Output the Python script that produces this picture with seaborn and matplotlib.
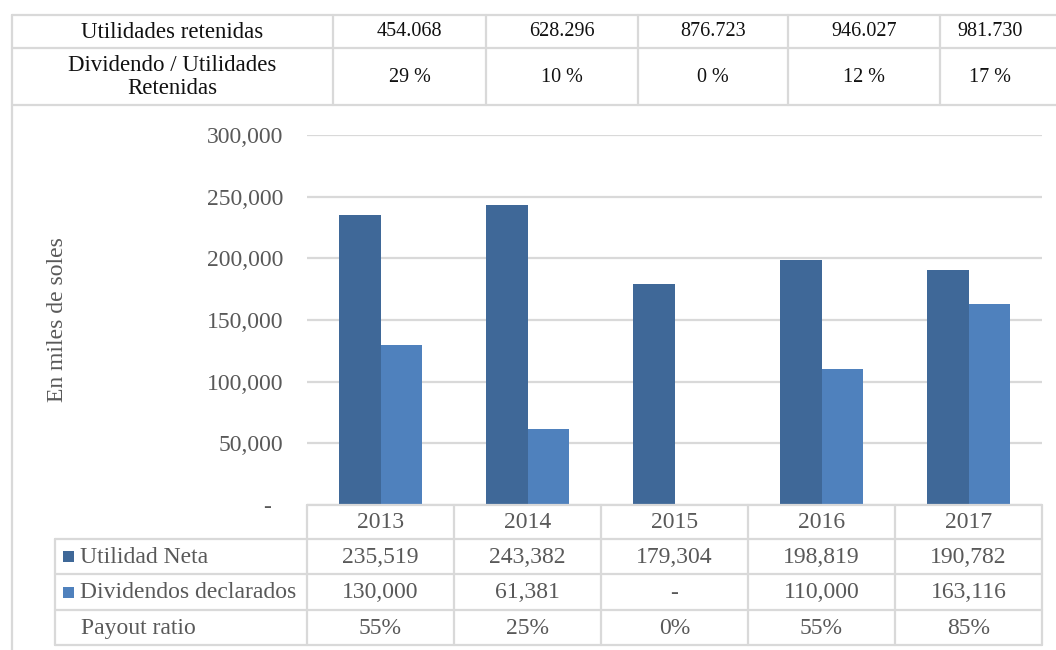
import matplotlib
matplotlib.use("Agg")
import matplotlib.pyplot as plt
import seaborn as sns
import pandas as pd
from matplotlib.patches import Rectangle

# ---- data ----
years = ["2013", "2014", "2015", "2016", "2017"]
utilidad_neta = [235519, 243382, 179304, 198819, 190782]
dividendos = [130000, 61381, 0, 110000, 163116]
payout = ["55%", "25%", "0%", "55%", "85%"]
util_neta_lbl = ["235,519", "243,382", "179,304", "198,819", "190,782"]
divid_lbl = ["130,000", "61,381", "-", "110,000", "163,116"]
utilidades_retenidas = ["454.068", "628.296", "876.723", "946.027", "981.730"]
div_util_ret = ["29 %", "10 %", "0 %", "12 %", "17 %"]
series = ["Utilidad Neta", "Dividendos declarados"]
yticks = [0, 50000, 100000, 150000, 200000, 250000, 300000]
ytick_lbls = ["-  ", "50,000", "100,000", "150,000", "200,000", "250,000", "300,000"]
colors = ["#3F6898", "#4F81BD"]

sns.set_style("white")
plt.rcParams["font.family"] = ["Liberation Serif", "DejaVu Serif"]

W, H = 1056, 650
fig = plt.figure(figsize=(W / 100, H / 100), dpi=100)

# plot area in pixel coordinates
px_l, px_r, px_top, px_base = 307, 1042, 135, 505
ax = fig.add_axes([px_l / W, 1 - px_base / H, (px_r - px_l) / W, (px_base - px_top) / H])

df = pd.DataFrame({
    "year": years * 2,
    "serie": [series[0]] * 5 + [series[1]] * 5,
    "value": utilidad_neta + dividendos,
})
df["year"] = pd.Categorical(df["year"], categories=years, ordered=True)

sns.barplot(data=df, x="year", y="value", hue="serie", hue_order=series,
            palette=colors, saturation=1, width=0.565, linewidth=0,
            legend=False, ax=ax, zorder=3)

ax.set_xlim(-0.5, 4.5)
ax.set_ylim(0, 300000)
ax.set_yticks(yticks)
ax.set_yticklabels(ytick_lbls)
ax.set_xticks([])
ax.set_xlabel("")
ax.set_ylabel("")
ax.tick_params(axis="y", length=0, pad=17, labelsize=17, labelcolor="#595959")
for s in ax.spines.values():
    s.set_visible(False)
ax.yaxis.grid(True, color="#D9D9D9", linewidth=1.6, zorder=0)
ax.set_axisbelow(True)

fig.text(58 / W, 1 - 320 / H, "En miles de soles", rotation=90, ha="center", va="center",
         fontsize=17, color="#595959")

# ---- overlay for tables ----
ov = fig.add_axes([0, 0, 1, 1], zorder=5)
ov.set_xlim(0, W)
ov.set_ylim(H, 0)
ov.axis("off")
ov.patch.set_alpha(0)

lc = "#D9D9D9"
lw = 1.6

# left border line
ov.plot([12, 12], [15, H], color=lc, lw=lw)

# top table
top_cols = [12, 333, 486, 638, 788, 940]
for y in [15, 48, 105]:
    ov.plot([12, W], [y, y], color=lc, lw=lw)
for x in top_cols[1:]:
    ov.plot([x, x], [15, 105], color=lc, lw=lw)
tc = "#111111"
ov.text((12 + 333) / 2, 32, "Utilidades retenidas", ha="center", va="center", fontsize=16.5, color=tc)
ov.text((12 + 333) / 2, 77, "Dividendo / Utilidades\nRetenidas", ha="center", va="center",
        fontsize=16.5, color=tc, linespacing=1.1)
centers = [(top_cols[i] + top_cols[i + 1]) / 2 for i in range(1, 5)] + [990]
for i in range(5):
    ov.text(centers[i], 32, utilidades_retenidas[i], ha="center", va="center", fontsize=14.5, color=tc)
    ov.text(centers[i], 78, div_util_ret[i], ha="center", va="center", fontsize=14.5, color=tc)

# bottom data table
colw = (px_r - px_l) / len(years)
col_edges = [px_l + colw * i for i in range(len(years) + 1)]
rows = [505, 539, 574, 610, 645]
leg_l = 55
ov.plot([px_l, px_r], [rows[0], rows[0]], color=lc, lw=lw)
for y in rows[1:]:
    ov.plot([leg_l, px_r], [y, y], color=lc, lw=lw)
for x in col_edges:
    ov.plot([x, x], [rows[0], rows[-1]], color=lc, lw=lw)
ov.plot([leg_l, leg_l], [rows[1], rows[-1]], color=lc, lw=lw)

gc = "#595959"
fs = 17
for i, yr in enumerate(years):
    cx = px_l + colw * (i + 0.5)
    ov.text(cx, (rows[0] + rows[1]) / 2 + 1, yr, ha="center", va="center", fontsize=fs, color=gc)
    ov.text(cx, (rows[1] + rows[2]) / 2 + 1, util_neta_lbl[i], ha="center", va="center", fontsize=fs, color=gc)
    ov.text(cx, (rows[2] + rows[3]) / 2 + 1, divid_lbl[i], ha="center", va="center", fontsize=fs, color=gc)
    ov.text(cx, (rows[3] + rows[4]) / 2 + 1, payout[i], ha="center", va="center", fontsize=fs, color=gc)

labels = series + ["Payout ratio"]
for r, lab in enumerate(labels):
    cy = (rows[r + 1] + rows[r + 2]) / 2
    if r < 2:
        ov.add_patch(Rectangle((63, cy - 5.5), 11, 11, color=colors[r], lw=0))
        ov.text(80, cy + 1, lab, ha="left", va="center", fontsize=fs, color=gc)
    else:
        ov.text(81, cy + 1, lab, ha="left", va="center", fontsize=fs, color=gc)

fig.savefig("out.png", dpi=100, facecolor="white")
